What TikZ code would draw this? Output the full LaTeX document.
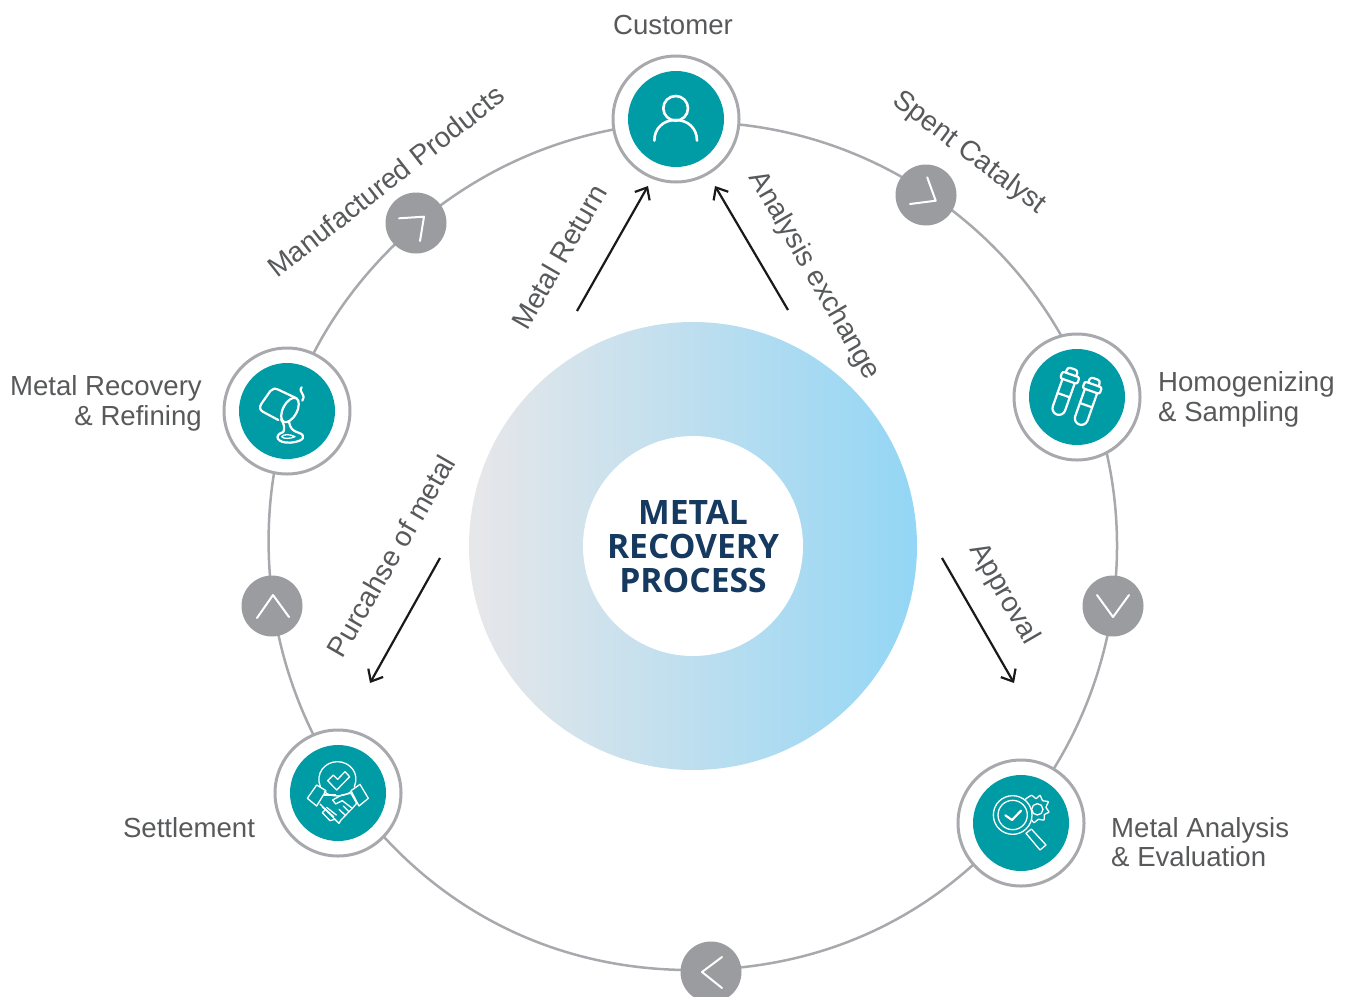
\documentclass[tikz,border=0pt]{standalone}
\usepackage{fontspec}
\setmainfont{Liberation Sans}
\newfontfamily\titlefont{Open Sans}
\usetikzlibrary{arrows.meta,backgrounds}
\definecolor{teal1}{HTML}{009CA6}
\definecolor{ringgrey}{HTML}{A7A9AC}
\definecolor{chevgrey}{HTML}{9B9C9F}
\definecolor{txtgrey}{HTML}{58595B}
\definecolor{navy1}{HTML}{15395F}
\definecolor{gradL}{HTML}{E7E7E9}
\definecolor{gradR}{HTML}{93D6F5}
\tikzset{
  hub/.style={circle,draw=ringgrey,line width=3pt,fill=white,minimum size=126pt,inner sep=0pt},
  core/.style={circle,fill=teal1,minimum size=96pt,inner sep=0pt},
  pin/.style={circle,fill=chevgrey,minimum size=61pt,inner sep=0pt},
  chev/.style={draw=white,line width=2pt,line cap=round,line join=round},
  icon/.style={draw=white,line width=2.2pt,line cap=round,line join=round},
  iconthin/.style={draw=white,line width=1.3pt,line cap=round,line join=round},
  ringarc/.style={draw=ringgrey,line width=2.5pt},
  flow/.style={draw=black!90,line width=2.2pt,-{Straight Barb[length=10pt,width=17pt,line width=2.2pt]}},
  lab/.style={text=txtgrey,font=\fontsize{27.6}{29.5}\selectfont,inner sep=0pt},
  tilted/.style={text=txtgrey,font=\fontsize{28.2}{29.5}\selectfont,inner sep=0pt},
  title/.style={text=navy1,font=\titlefont\bfseries\fontsize{33.6}{34}\selectfont,align=center,inner sep=0pt}
}
\newcommand{\ringpt}[2]{\coordinate (#1) at ({693+424*sin(#2)},{546-424*cos(#2)});}
\begin{document}
\begin{tikzpicture}[x=1pt,y=-1pt]
\useasboundingbox (0,0) rectangle (1348,996);
% centre disc
\node[circle,minimum size=448pt,inner sep=0pt,left color=gradL,right color=gradR] (disc) at (693,546) {};
\node[circle,minimum size=220pt,inner sep=0pt,fill=white] (hole) at (693,546) {};
\node[title] (ttl) at (693,546.5) {METAL\\RECOVERY\\PROCESS};
% hubs
\node[hub] (cust) at (676,119) {}; \node[core] (custc) at (676,119) {};
\node[hub] (homo) at (1077,397) {}; \node[core] (homoc) at (1077,397) {};
\node[hub] (anal) at (1021,823) {}; \node[core] (analc) at (1021,823) {};
\node[hub] (sett) at (338,793) {}; \node[core] (settc) at (338,793) {};
\node[hub] (refi) at (287,411) {}; \node[core] (refic) at (287,411) {};
% pins
\node[pin] (pa) at (926,195) {};
\node[pin] (pb) at (1113,606) {};
\node[pin] (pc) at (711,972) {};
\node[pin] (pd) at (272,606) {};
\node[pin] (pe) at (416,223) {};
% ring points
\ringpt{r1}{-2.28}\ringpt{r2}{33.6}\ringpt{r3}{68.8}\ringpt{r4}{98.1}\ringpt{r5}{130.2}
\ringpt{r6}{177.6}\ringpt{r7}{235.2}\ringpt{r8}{261.9}\ringpt{r9}{319.4}
\begin{scope}[on background layer]
\draw[ringarc] (r1) to[bend left=17.9,looseness=.88] (r2);
\draw[ringarc] (r2) to[bend left=17.6,looseness=.88] (r3);
\draw[ringarc] (r3) to[bend left=14.65,looseness=.87] (r4);
\draw[ringarc] (r4) to[bend left=16.05,looseness=.87] (r5);
\draw[ringarc] (r5) to[bend left=23.7,looseness=.92] (r6);
\draw[ringarc] (r6) to[bend left=28.8,looseness=.94] (r7);
\draw[ringarc] (r7) to[bend left=13.35,looseness=.86] (r8);
\draw[ringarc] (r8) to[bend left=28.75,looseness=.94] (r9);
\draw[ringarc] (r9) to[bend left=19.15,looseness=.88] (r1);
\end{scope}
% chevrons
\draw[chev] ([shift={(1.2,-17.7)}]pa.center) -- ([shift={(9.7,5.7)}]pa.center) -- ([shift={(-16,9)}]pa.center);
\draw[chev] ([shift={(-16,-11)}]pb.center) -- ([shift={(0,11)}]pb.center) -- ([shift={(16,-11)}]pb.center);
\draw[chev] ([shift={(11,-15)}]pc.center) -- ([shift={(-9,0)}]pc.center) -- ([shift={(11,16)}]pc.center);
\draw[chev] ([shift={(-15,12)}]pd.center) -- ([shift={(1,-11)}]pd.center) -- ([shift={(17,11)}]pd.center);
\draw[chev] ([shift={(-17,-4.7)}]pe.center) -- ([shift={(8,-6.3)}]pe.center) -- ([shift={(4,18)}]pe.center);
% customer icon
\begin{scope}[shift={(600,40)},x=.3333pt,y=-.3333pt]
\draw[icon,line width=2.6pt] (227,205) circle[radius=37];
\draw[icon,line width=2.6pt] (163,302) .. controls (163,265) and (190,240) .. (227,240) .. controls (264,240) and (291,265) .. (291,302);
\end{scope}
% tubes icon
\begin{scope}[shift={(1064.3,393.3)},rotate=-19.5]
\draw[icon] (-6.5,-13) -- (-6.5,16) arc[start angle=180,end angle=0,radius=6.5] -- (6.5,-13);
\draw[icon,rounded corners=2pt] (-9,-13) rectangle (9,-20);
\draw[icon,rounded corners=3pt] (-5.5,-20) -- (-5.5,-26) -- (5.5,-26) -- (5.5,-20);
\draw[icon] (-6.5,2) -- (6.5,2);
\end{scope}
\begin{scope}[shift={(1086.7,403.3)},rotate=-19.5]
\draw[icon] (-6.5,-13) -- (-6.5,16) arc[start angle=180,end angle=0,radius=6.5] -- (6.5,-13);
\draw[icon,rounded corners=2pt] (-9,-13) rectangle (9,-20);
\draw[icon,rounded corners=3pt] (-5.5,-20) -- (-5.5,-26) -- (5.5,-26) -- (5.5,-20);
\draw[icon] (-6.5,2) -- (6.5,2);
\end{scope}
% magnifier icon
\begin{scope}[shift={(950,750)},x=.3333pt,y=-.3333pt]
\draw[iconthin] (262,178) circle[radius=17];
\draw[iconthin] plot[smooth cycle,tension=.25] coordinates {
 (245,136)(258,146)(270,136)(278,152)(295,155)(288,172)(297,186)(283,194)(282,210)(265,208)(252,218)(240,205)(225,205)(225,150)};
\draw[iconthin,fill=teal1] (188,195) circle[radius=58];
\draw[iconthin] (188,195) circle[radius=44];
\draw[line width=2.2pt,draw=white,line cap=round,line join=round] (166,196) -- (186,210) -- (213,182);
\draw[iconthin] (228,250) -- (244,237) -- (288,285) -- (270,300) -- cycle;
\end{scope}
% handshake icon
\begin{scope}[shift={(265,720)},x=.3333pt,y=-.3333pt]
\draw[iconthin] (166,200) .. controls (150,160) and (180,125) .. (217,125) .. controls (255,125) and (285,160) .. (268,200);
\draw[iconthin] (178,215) .. controls (195,232) and (235,232) .. (258,215);
\draw[iconthin] (188,182) -- (205,165) -- (218,178) -- (240,155) -- (254,170) -- (215,210) -- cycle;
\draw[iconthin] (127,235) -- (155,195) -- (183,212) -- (155,258) -- cycle;
\draw[iconthin] (258,212) -- (285,193) -- (310,235) -- (282,258) -- cycle;
\draw[iconthin] (203,240) -- (230,225) -- (258,220) -- (275,250) -- (262,265) -- (228,300);
\draw[iconthin] (203,240) -- (212,252) -- (232,242) -- (262,265);
\draw[iconthin] (178,225) -- (212,225);
\draw[iconthin] (165,252) -- (210,298) -- (222,310) -- (228,300);
\draw[iconthin] (172,262) -- (182,268) -- (172,278) -- (195,302) -- (210,298);
\draw[iconthin] (182,268) -- (206,290);
\draw[iconthin] (185,262) -- (214,285);
\draw[iconthin] (222,268) -- (240,285);
\draw[iconthin] (235,258) -- (252,275);
\end{scope}
% pouring icon
\begin{scope}[shift={(215,340)},x=.3333pt,y=-.3333pt]
\draw[icon] (245,175) -- (190,149) .. controls (180,144) and (172,146) .. (166,153) -- (140,190) .. controls (132,202) and (134,210) .. (145,216) -- (190,240);
\draw[icon,rotate around={-28:(225,210)}] (225,210) ellipse[x radius=21,y radius=40];
\draw[icon] (198,238) .. controls (208,252) and (210,265) .. (205,276);
\draw[icon] (222,246) .. controls (226,265) and (232,272) .. (250,278) .. controls (275,285) and (270,305) .. (225,308) .. controls (185,310) and (175,285) .. (205,276);
\draw[iconthin] (200,290) .. controls (205,282) and (225,282) .. (240,290) .. controls (225,297) and (205,297) .. (200,290);
\draw[icon] (260,142) .. controls (248,158) and (275,160) .. (262,182);
\end{scope}
% arrows
\coordinate (a1s) at (577,311); \coordinate (a1e) at (648,186);
\coordinate (a2s) at (788,310); \coordinate (a2e) at (715,186);
\coordinate (a3s) at (942,558); \coordinate (a3e) at (1014,683);
\coordinate (a4s) at (440,558); \coordinate (a4e) at (370,683);
\draw[flow] (a1s) -- (a1e);
\draw[flow] (a2s) -- (a2e);
\draw[flow] (a3s) -- (a3e);
\draw[flow] (a4s) -- (a4e);
% labels
\node[lab] (l1) at (673,25) {Customer};
\node[tilted,rotate=-37] (l2) at (969,153) {Spent Catalyst};
\node[lab,anchor=west,align=left] (l3) at (1158,399.5) {Homogenizing\\\& Sampling};
\node[lab,anchor=west,align=left] (l4) at (1111,842) {Metal Analysis\\\& Evaluation};
\node[lab] (l5) at (189,828) {Settlement};
\node[lab,anchor=east,align=right] (l6) at (202,403.5) {Metal Recovery\\\& Refining};
\node[tilted,rotate=38] (l7) at (386,181) {Manufactured Products};
\node[tilted,rotate=60] (l8) at (559,257) {Metal Return};
\node[tilted,rotate=-60] (l9) at (814,276) {Analysis exchange};
\node[tilted,rotate=-60] (l10) at (1004,594) {Approval};
\node[tilted,rotate=60] (l11) at (391,556) {Purcahse of metal};
\end{tikzpicture}
\end{document}
